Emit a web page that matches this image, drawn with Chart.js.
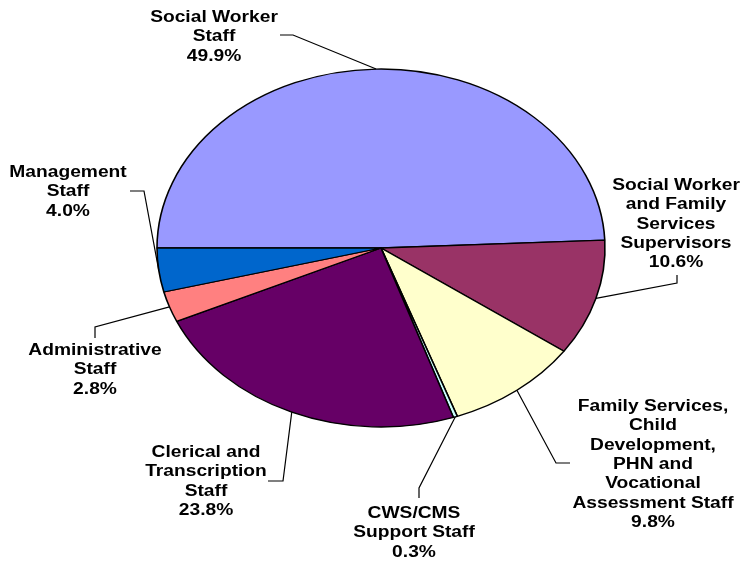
<!DOCTYPE html>
<html>
<head>
<meta charset="utf-8">
<script src="https://cdn.jsdelivr.net/npm/chart.js@4"></script>
<style>
  html, body { margin: 0; padding: 0; background: #fff; }
  canvas { display: block; }
</style>
</head>
<body>
<canvas id="staff-pie" width="741" height="561"></canvas>
<script>
// staff categories, each split into the lines shown on the label
var categories = [
  ['Social Worker', 'Staff'],
  ['Social Worker', 'and Family', 'Services', 'Supervisors'],
  ['Family Services,', 'Child', 'Development,', 'PHN and', 'Vocational', 'Assessment Staff'],
  ['CWS/CMS', 'Support Staff'],
  ['Clerical and', 'Transcription', 'Staff'],
  ['Administrative', 'Staff'],
  ['Management', 'Staff']
]
var percents = [49.9, 10.6, 9.8, 0.3, 23.8, 2.8, 4.0]
var sliceColors = ['#9999FF', '#993366', '#FFFFCC', '#CCFFFF', '#660066', '#FF8080', '#0066CC']

// where each label sits (center x, first baseline) and the leader elbow points
var labelLayout = [
  { x: 214, y: 22, leader: [[280, 35], [293, 35]] },
  { x: 676, y: 190, leader: [[677, 275], [677, 283]] },
  { x: 653, y: 411, leader: [[570, 463], [556, 463]] },
  { x: 414, y: 518, leader: [[419, 498], [419, 488]] },
  { x: 206, y: 457, leader: [[268, 481], [283, 481]] },
  { x: 95, y: 355, leader: [[95, 338], [95, 327]] },
  { x: 68, y: 177, leader: [[130, 191], [144, 191]] }
]

const squash = 179 / 224   // pie is drawn as a flattened ellipse
const textStretch = 1.2
const lineGap = 19.3

const ellipsePlugin = {
  id: 'ellipse',
  beforeDatasetsDraw(chart) {
    const arc = chart.getDatasetMeta(0).data[0]
    const ctx = chart.ctx
    ctx.save()
    ctx.translate(arc.x, arc.y)
    ctx.scale(1, squash)
    ctx.translate(-arc.x, -arc.y)
  },
  afterDatasetsDraw(chart) {
    chart.ctx.restore()
  }
}

const labelPlugin = {
  id: 'sliceLabels',
  afterDraw(chart) {
    const ctx = chart.ctx
    const arcs = chart.getDatasetMeta(0).data
    ctx.save()
    ctx.strokeStyle = '#000'
    ctx.lineWidth = 1.2
    ctx.fillStyle = '#000'
    ctx.font = 'bold 16px "Liberation Sans", Arial, sans-serif'
    ctx.textAlign = 'center'
    ctx.textBaseline = 'alphabetic'
    arcs.forEach(function (arc, i) {
      const mid = (arc.startAngle + arc.endAngle) / 2
      const ax = arc.x + Math.cos(mid) * arc.outerRadius
      const ay = arc.y + Math.sin(mid) * arc.outerRadius * squash
      const lay = labelLayout[i]
      ctx.beginPath()
      ctx.moveTo(lay.leader[0][0], lay.leader[0][1])
      ctx.lineTo(lay.leader[1][0], lay.leader[1][1])
      ctx.lineTo(ax, ay)
      ctx.stroke()

      const lines = categories[i].concat([percents[i].toFixed(1) + '%'])
      lines.forEach(function (txt, k) {
        ctx.save()
        ctx.translate(lay.x, lay.y + k * lineGap)
        ctx.scale(textStretch, 1)
        ctx.fillText(txt, 0, 0)
        ctx.restore()
      })
    })
    ctx.restore()
  }
}

const pieCanvas = document.getElementById('staff-pie')
new Chart(pieCanvas, {
  type: 'pie',
  data: {
    labels: categories.map(function (c) { return c.join(' ') }),
    datasets: [
      {
        data: percents,
        backgroundColor: sliceColors,
        borderColor: '#000',
        borderWidth: 1.6
      }
    ]
  },
  options: {
    responsive: false,
    animation: false,
    rotation: -90,
    radius: 224,
    layout: {
      padding: { left: 157, right: 136, top: 24, bottom: 89 }
    },
    plugins: {
      legend: { display: false },
      tooltip: { enabled: false }
    }
  },
  plugins: [ellipsePlugin, labelPlugin]
})
</script>
</body>
</html>
